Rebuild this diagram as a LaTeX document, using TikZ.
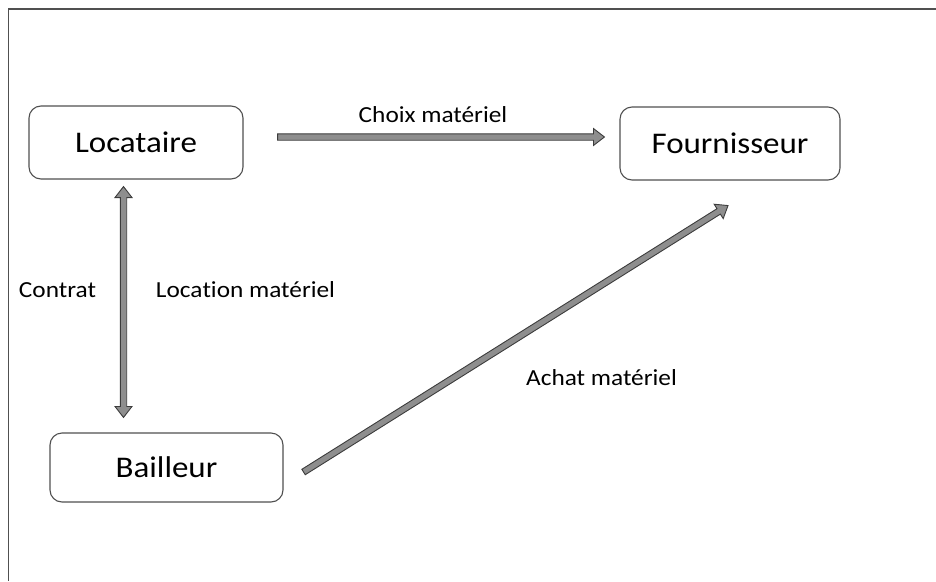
\documentclass[tikz,border=0pt]{standalone}
\usepackage{fontspec}
\setmainfont{Carlito}[FakeStretch=1.1, Ligatures={NoCommon,NoContextual}]
\usetikzlibrary{calc}

\definecolor{framegray}{HTML}{505050}
\definecolor{arrowfill}{HTML}{8E8E8E}
\definecolor{arrowline}{HTML}{3C3C3C}

% block arrow from #1 to #2 (shaft half width 3.2, head half width 8.5, head length 11)
\newcommand{\blockarrow}[2]{%
  \fill[arrowfill, draw=arrowline, line width=0.9pt, line join=miter]
    ($(#1)!3.2pt!90:(#2)$) --
    ($($(#2)!11pt!(#1)$)!3.2pt!90:(#2)$) --
    ($($(#2)!11pt!(#1)$)!8.5pt!90:(#2)$) --
    (#2) --
    ($($(#2)!11pt!(#1)$)!8.5pt!-90:(#2)$) --
    ($($(#2)!11pt!(#1)$)!3.2pt!-90:(#2)$) --
    ($(#1)!3.2pt!-90:(#2)$) -- cycle;}
% block arrow with heads at both ends
\newcommand{\blockarrowboth}[2]{%
  \fill[arrowfill, draw=arrowline, line width=0.9pt, line join=miter]
    (#1) --
    ($($(#1)!11pt!(#2)$)!8.5pt!90:(#2)$) --
    ($($(#1)!11pt!(#2)$)!3.2pt!90:(#2)$) --
    ($($(#2)!11pt!(#1)$)!3.2pt!-90:(#1)$) --
    ($($(#2)!11pt!(#1)$)!8.5pt!-90:(#1)$) --
    (#2) --
    ($($(#2)!11pt!(#1)$)!8.5pt!90:(#1)$) --
    ($($(#2)!11pt!(#1)$)!3.2pt!90:(#1)$) --
    ($($(#1)!11pt!(#2)$)!3.2pt!-90:(#2)$) --
    ($($(#1)!11pt!(#2)$)!8.5pt!-90:(#2)$) -- cycle;}

\tikzset{
  party/.style={draw=framegray, line width=1.1pt, rounded corners=12pt,
    fill=white, inner sep=0pt, font=\fontsize{30}{35}\selectfont},
  flowlabel/.style={inner sep=0pt, font=\fontsize{23}{28}\selectfont}
}

\begin{document}
\begin{tikzpicture}[x=1pt, y=-1pt]
  \useasboundingbox (0,0) rectangle (936,581);
  % open frame: top and left edges
  \draw[framegray, line width=1.3pt] (936,9) -- (8.5,9) -- (8.5,581);

  \node[party, minimum width=214pt, minimum height=73pt] (loc)  at (136,142.5) {Locataire};
  \node[party, minimum width=220pt, minimum height=73pt] (four) at (730,143.5) {Fournisseur};
  \node[party, minimum width=233pt, minimum height=69pt] (bail) at (166.5,467.5) {Bailleur};

  % arrow end points
  \coordinate (c1s) at ($(loc.east)+(34,-5.5)$);
  \coordinate (c1e) at ($(four.west)+(-15,-6.5)$);
  \coordinate (c2s) at ($(loc.south)+(-12.5,7)$);
  \coordinate (c2e) at ($(bail.north)+(-43,-15)$);
  \coordinate (c3s) at ($(bail.east)+(20,4.5)$);
  \coordinate (c3e) at ($(four.south)+(-2,25)$);

  \blockarrow{c1s}{c1e}
  \blockarrowboth{c2s}{c2e}
  \blockarrow{c3s}{c3e}

  \node[flowlabel] (lchoix)  at (433,115) {Choix matériel};
  \node[flowlabel] (lcontr)  at (57.5,290) {Contrat};
  \node[flowlabel] (lloc)    at (245.5,290) {Loca\kern0pt tion matériel};
  \node[flowlabel] (lachat)  at (601.5,378) {Achat matériel};
\end{tikzpicture}
\end{document}
